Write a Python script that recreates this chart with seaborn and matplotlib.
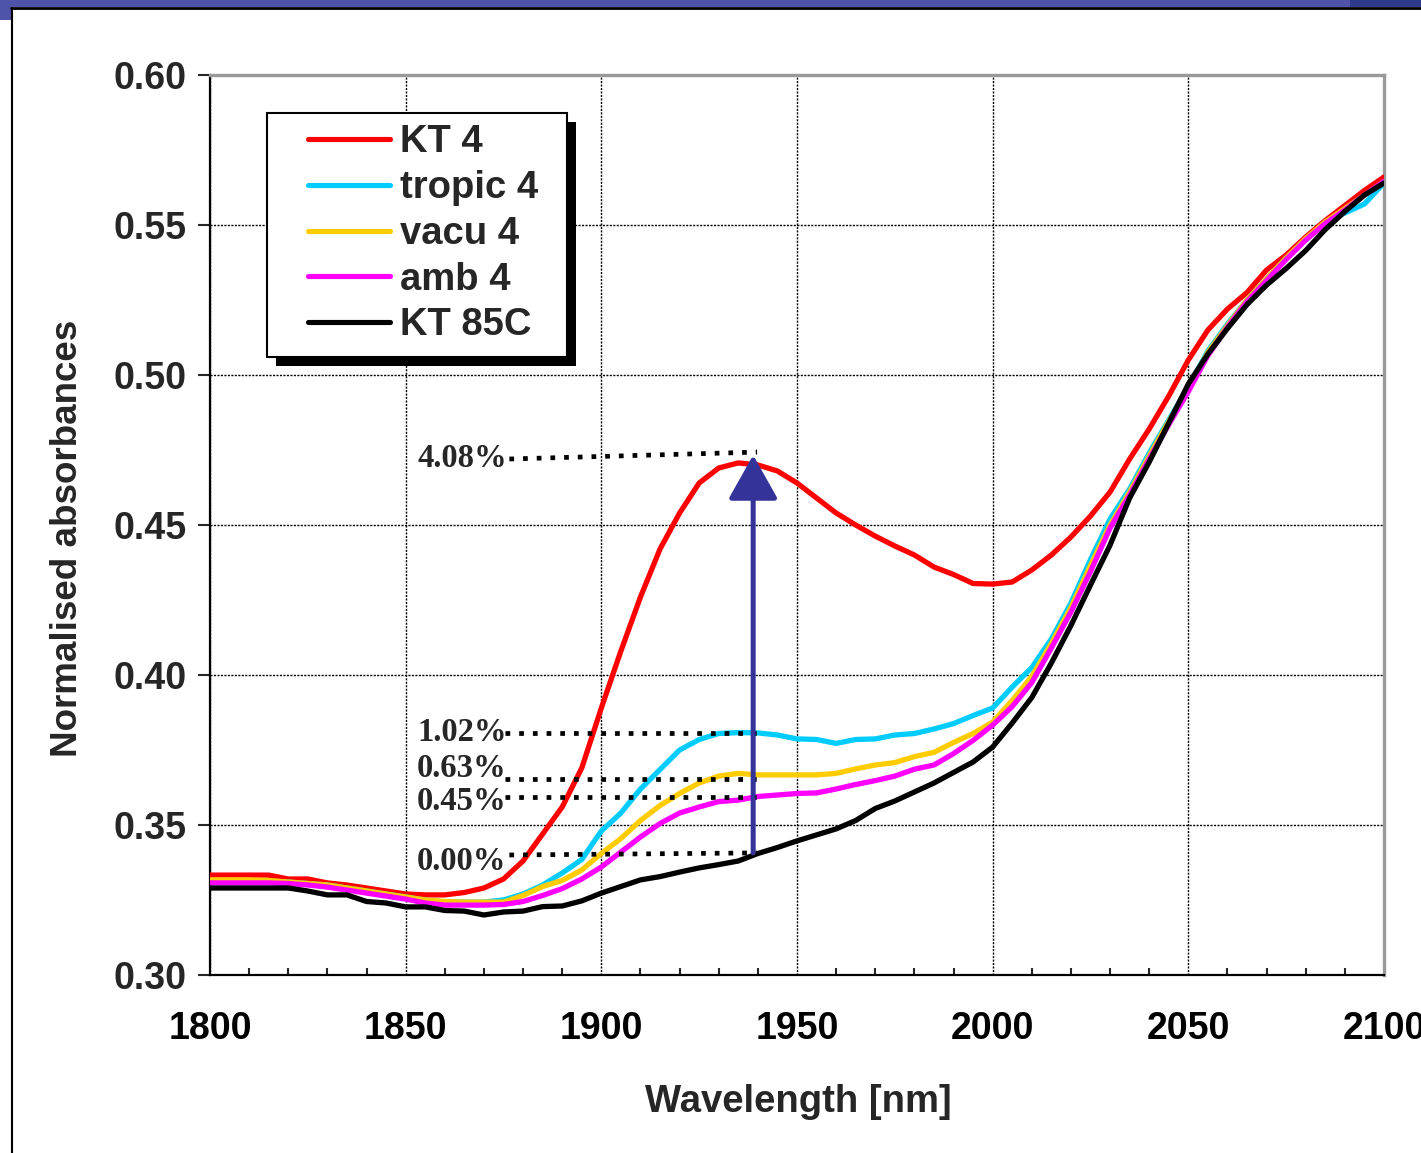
import numpy as np
import pandas as pd
import seaborn as sns
import matplotlib.pyplot as plt
from matplotlib.lines import Line2D
from matplotlib.patches import Rectangle
from matplotlib.ticker import MultipleLocator, FormatStrFormatter

# wavelength grid [nm]
wavelength = list(range(1800, 2101, 5))

kt4 = [0.3333, 0.3333, 0.3333, 0.3333, 0.3320, 0.3320, 0.3307, 0.3300, 0.3290, 0.3280,
       0.3270, 0.3267, 0.3267, 0.3275, 0.3290, 0.3320, 0.3380, 0.3470, 0.3560, 0.3690,
       0.3890, 0.4080, 0.4260, 0.4420, 0.4540, 0.4640, 0.4690, 0.4707, 0.4700, 0.4680,
       0.4640, 0.4590, 0.4540, 0.4500, 0.4463, 0.4430, 0.4400, 0.4360, 0.4335, 0.4305,
       0.4303, 0.4310, 0.4350, 0.4400, 0.4460, 0.4530, 0.4610, 0.4720, 0.4820, 0.4930,
       0.5050, 0.5150, 0.5220, 0.5275, 0.5350, 0.5400, 0.5460, 0.5515, 0.5565, 0.5615,
       0.5660]
tropic4 = [0.3313, 0.3313, 0.3313, 0.3313, 0.3310, 0.3305, 0.3300, 0.3290, 0.3280, 0.3270,
           0.3260, 0.3250, 0.3243, 0.3243, 0.3243, 0.3250, 0.3270, 0.3300, 0.3340, 0.3385,
           0.3480, 0.3540, 0.3620, 0.3685, 0.3750, 0.3785, 0.3805, 0.3808, 0.3807, 0.3800,
           0.3787, 0.3785, 0.3772, 0.3785, 0.3787, 0.3800, 0.3805, 0.3820, 0.3838, 0.3865,
           0.3890, 0.3960, 0.4025, 0.4120, 0.4240, 0.4385, 0.4520, 0.4620, 0.4740, 0.4850,
           0.4960, 0.5080, 0.5170, 0.5250, 0.5320, 0.5390, 0.5450, 0.5510, 0.5540, 0.5570,
           0.5640]
vacu4 = [0.3317, 0.3317, 0.3317, 0.3315, 0.3310, 0.3305, 0.3300, 0.3290, 0.3280, 0.3270,
         0.3260, 0.3250, 0.3245, 0.3243, 0.3243, 0.3243, 0.3265, 0.3295, 0.3315, 0.3350,
         0.3405, 0.3455, 0.3515, 0.3565, 0.3605, 0.3640, 0.3663, 0.3672, 0.3667, 0.3667,
         0.3667, 0.3667, 0.3672, 0.3687, 0.3700, 0.3708, 0.3728, 0.3742, 0.3775, 0.3805,
         0.3843, 0.3915, 0.3995, 0.4105, 0.4225, 0.4365, 0.4500, 0.4610, 0.4730, 0.4845,
         0.4955, 0.5075, 0.5165, 0.5250, 0.5320, 0.5390, 0.5455, 0.5510, 0.5555, 0.5600,
         0.5645]
amb4 = [0.3307, 0.3307, 0.3307, 0.3307, 0.3305, 0.3300, 0.3293, 0.3283, 0.3273, 0.3263,
        0.3253, 0.3240, 0.3233, 0.3233, 0.3233, 0.3235, 0.3245, 0.3265, 0.3288, 0.3320,
        0.3360, 0.3410, 0.3460, 0.3505, 0.3540, 0.3560, 0.3578, 0.3583, 0.3595, 0.3600,
        0.3605, 0.3607, 0.3620, 0.3635, 0.3648, 0.3663, 0.3686, 0.3700, 0.3738, 0.3782,
        0.3833, 0.3895, 0.3975, 0.4090, 0.4210, 0.4345, 0.4490, 0.4600, 0.4720, 0.4835,
        0.4945, 0.5065, 0.5160, 0.5245, 0.5315, 0.5385, 0.5450, 0.5505, 0.5550, 0.5600,
        0.5645]
kt85c = [0.3290, 0.3290, 0.3290, 0.3290, 0.3290, 0.3280, 0.3267, 0.3267, 0.3245, 0.3240,
         0.3227, 0.3227, 0.3215, 0.3213, 0.3200, 0.3210, 0.3213, 0.3228, 0.3230, 0.3247,
         0.3273, 0.3295, 0.3317, 0.3328, 0.3343, 0.3357, 0.3368, 0.3380, 0.3405, 0.3425,
         0.3447, 0.3467, 0.3487, 0.3515, 0.3555, 0.3580, 0.3610, 0.3640, 0.3675, 0.3710,
         0.3760, 0.3840, 0.3925, 0.4040, 0.4165, 0.4300, 0.4433, 0.4590, 0.4710, 0.4840,
         0.4970, 0.5070, 0.5155, 0.5235, 0.5300, 0.5355, 0.5415, 0.5485, 0.5545, 0.5600,
         0.5640]

series_names = ['KT 4', 'tropic 4', 'vacu 4', 'amb 4', 'KT 85C']
series_colors = ['#FF0000', '#00CCFF', '#FFCC00', '#FF00FF', '#000000']

# percentage annotations: label, text y, line start (x, y), line end y
pct_labels = ['4.08%', '1.02%', '0.63%', '0.45%', '0.00%']
pct_text_y = [0.4723, 0.3807, 0.3687, 0.3577, 0.3377]
pct_line_x0 = [1876.5, 1875.5, 1875.5, 1875.5, 1876.5]
pct_line_y0 = [0.4720, 0.3807, 0.3653, 0.3593, 0.3400]
pct_line_y1 = [0.4743, 0.3807, 0.3653, 0.3593, 0.3407]
arrow_x = 1938.8
arrow_y = (0.3407, 0.4733)

df = pd.DataFrame({'wavelength': wavelength, 'KT 4': kt4, 'tropic 4': tropic4,
                   'vacu 4': vacu4, 'amb 4': amb4, 'KT 85C': kt85c})
dfm = df.melt('wavelength', var_name='sample', value_name='absorbance')

sns.set_style('white')
plt.rcParams['font.family'] = ['Liberation Sans', 'DejaVu Sans']
plt.rcParams['font.weight'] = 'bold'

W, H = 1421, 1153
fig = plt.figure(figsize=(W / 100, H / 100), dpi=100)
ax = fig.add_axes([210 / W, 1 - 975 / H, 1174 / W, 900 / H])

palette = dict(zip(series_names, series_colors))
sns.lineplot(data=dfm, x='wavelength', y='absorbance', hue='sample', hue_order=series_names,
             palette=palette, linewidth=3.8, ax=ax, legend=False, zorder=3)

ax.set_xlim(1800, 2100)
ax.set_ylim(0.30, 0.60)
ax.xaxis.set_major_locator(MultipleLocator(50))
ax.xaxis.set_minor_locator(MultipleLocator(10))
ax.yaxis.set_major_locator(MultipleLocator(0.05))
ax.yaxis.set_major_formatter(FormatStrFormatter('%.2f'))

ax.grid(True, which='major', color='black', linestyle=(0, (1.5, 1)), linewidth=1.0)
ax.set_axisbelow(True)

ax.tick_params(axis='x', which='major', direction='inout', length=12, width=1.5,
               labelsize=27, pad=20, colors='black')
ax.tick_params(axis='x', which='minor', direction='in', length=5, width=1.5,
               bottom=True)
ax.tick_params(axis='y', which='major', direction='out', length=9, width=1.5,
               labelsize=27, pad=8, left=True)
for lab in ax.get_xticklabels() + ax.get_yticklabels():
    lab.set_fontweight('bold')

for side in ['left', 'bottom']:
    ax.spines[side].set_color('black')
    ax.spines[side].set_linewidth(1.6)
for side in ['top', 'right']:
    ax.spines[side].set_color('#999999')
    ax.spines[side].set_linewidth(2.4)

ax.set_xlabel('Wavelength [nm]', fontsize=27.5, fontweight='bold')
ax.set_ylabel('Normalised absorbances', fontsize=26.5, fontweight='bold')
ax.xaxis.set_label_coords(0.5013, -0.121)
ax.yaxis.set_label_coords(-0.1065, 0.4856)

# percentage annotations with dotted leader lines
for lab, ty, x0, y0, y1 in zip(pct_labels, pct_text_y, pct_line_x0, pct_line_y0, pct_line_y1):
    ax.plot([x0, arrow_x + 1], [y0, y1], color='black', linewidth=3.4,
            linestyle=(0, (1, 1.9)), dash_capstyle='butt', zorder=4)
    ax.text(1852.9, ty, lab, fontsize=23.5, fontweight='bold',
            family=['Liberation Serif', 'DejaVu Serif'],
            ha='left', va='center', zorder=5)

ax.annotate('', xy=(arrow_x, arrow_y[1]), xytext=(arrow_x, arrow_y[0]),
            arrowprops=dict(arrowstyle='-|>,head_length=1.37,head_width=0.77',
                            color='#333399', lw=3.6, mutation_scale=20,
                            shrinkA=0, shrinkB=0), zorder=6)

# legend: frame and solid black drop shadow drawn by hand
handles = [Line2D([], [], color=c, linewidth=3.7, solid_capstyle='round') for c in series_colors]
leg = ax.legend(handles, series_names, loc='upper left',
                bbox_to_anchor=((308 - 210) / 1174, (975 - 124.5) / 900),
                borderaxespad=0, borderpad=0, frameon=False,
                prop={'weight': 'bold', 'size': 27.5}, handlelength=2.15, handletextpad=0.26,
                labelspacing=0.255)
leg.set_zorder(8)

ax.add_artist(Rectangle((276 / W, 1 - 366 / H), 300 / W, 244 / H, transform=fig.transFigure,
                        facecolor='black', edgecolor='none', zorder=7.4, clip_on=False))
ax.add_artist(Rectangle((267 / W, 1 - 357 / H), 300 / W, 244 / H, transform=fig.transFigure,
                        facecolor='white', edgecolor='black', linewidth=1.5,
                        zorder=7.5, clip_on=False))

# slide frame remnants
fig.add_artist(Rectangle((0, 1 - 7 / H), 1, 7 / H, transform=fig.transFigure,
                         facecolor='#4F53AA', edgecolor='none'))
fig.add_artist(Rectangle((1350 / W, 1 - 7 / H), 71 / W, 7 / H, transform=fig.transFigure,
                         facecolor='#2E3A8C', edgecolor='none'))
fig.add_artist(Rectangle((0, 1 - 20 / H), 11 / W, 13 / H, transform=fig.transFigure,
                         facecolor='#4F53AA', edgecolor='none'))
fig.add_artist(Line2D([11 / W, 1], [1 - 8 / H, 1 - 8 / H], transform=fig.transFigure,
                      color='black', linewidth=2))
fig.add_artist(Line2D([12 / W, 12 / W], [0, 1 - 8 / H], transform=fig.transFigure,
                      color='black', linewidth=1.5))

fig.savefig('out.png', dpi=100)
